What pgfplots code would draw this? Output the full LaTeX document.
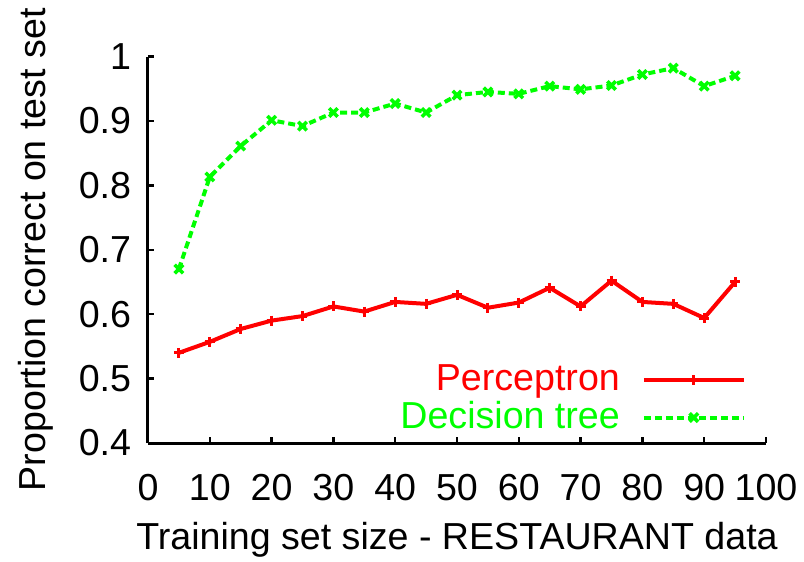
\documentclass[border=0pt]{standalone}
\usepackage{fontspec}
\setmainfont{Liberation Sans}
\usepackage{pgfplots}
\pgfplotsset{compat=1.18}
\definecolor{pred}{RGB}{255,0,0}
\definecolor{pgreen}{RGB}{0,255,0}

\begin{document}
\fontsize{18.8bp}{22bp}\selectfont
\begin{tikzpicture}
  \begin{axis}[
    at={(0,0)}, anchor=south west,
    scale only axis,
    width=309bp, height=193.25bp,
    xmin=0, xmax=100, ymin=0.4, ymax=1,
    xtick={0,10,...,100},
    ytick={0.4,0.5,...,1.0},
    axis x line*=bottom, axis y line*=left,
    axis line style={-, line width=1.5bp},
    tick style={line width=1.2bp, black},
    tick align=inside,
    major tick length=3bp,
    /pgf/number format/assume math mode=true,
    yticklabel style={/pgf/number format/fixed, /pgf/number format/precision=1},
    xticklabel shift=9bp,
    yticklabel shift=2bp,
    xlabel={Training set size - RESTAURANT data},
    ylabel={Proportion correct on test set},
    xlabel style={yshift=2bp},
    legend cell align=right,
    legend plot pos=right,
    legend style={at={(rel axis cs:0.968,0.012)}, anchor=south east,
      draw=none, fill=none, inner sep=0pt, row sep=-1.5bp, column sep=9bp,
      font=\fontsize{18.8bp}{22bp}\selectfont},
    legend image code/.code={
      \draw[mark repeat=2, mark phase=2] plot coordinates {(0bp,0bp) (25bp,0bp) (50bp,0bp)};},
  ]
    % Perceptron
    \addplot[color=pred, line width=2bp, mark=+, mark size=2.5bp,
      mark options={solid, line width=1.5bp}] coordinates {
      (5,0.540) (10,0.557) (15,0.577) (20,0.590) (25,0.597)
      (30,0.612) (35,0.604) (40,0.619) (45,0.616) (50,0.630)
      (55,0.610) (60,0.618) (65,0.641) (70,0.612) (75,0.652)
      (80,0.619) (85,0.616) (90,0.594) (95,0.650)
    };
    \addlegendentry{\textcolor{pred}{Perceptron}}

    % Decision tree
    \addplot[color=pgreen, line width=2bp, dash pattern=on 3.5bp off 2bp,
      mark=x, mark size=3bp, mark options={solid, line width=1.8bp}] coordinates {
      (5,0.670) (10,0.813) (15,0.861) (20,0.901) (25,0.892)
      (30,0.913) (35,0.913) (40,0.927) (45,0.913) (50,0.940)
      (55,0.945) (60,0.942) (65,0.954) (70,0.949) (75,0.955)
      (80,0.972) (85,0.982) (90,0.954) (95,0.970)
    };
    \addlegendentry{\textcolor{pgreen}{Decision tree}}
  \end{axis}
  \pgfresetboundingbox
  \path (-74bp,-59.5bp) rectangle (328bp,221.5bp);
\end{tikzpicture}
\end{document}
